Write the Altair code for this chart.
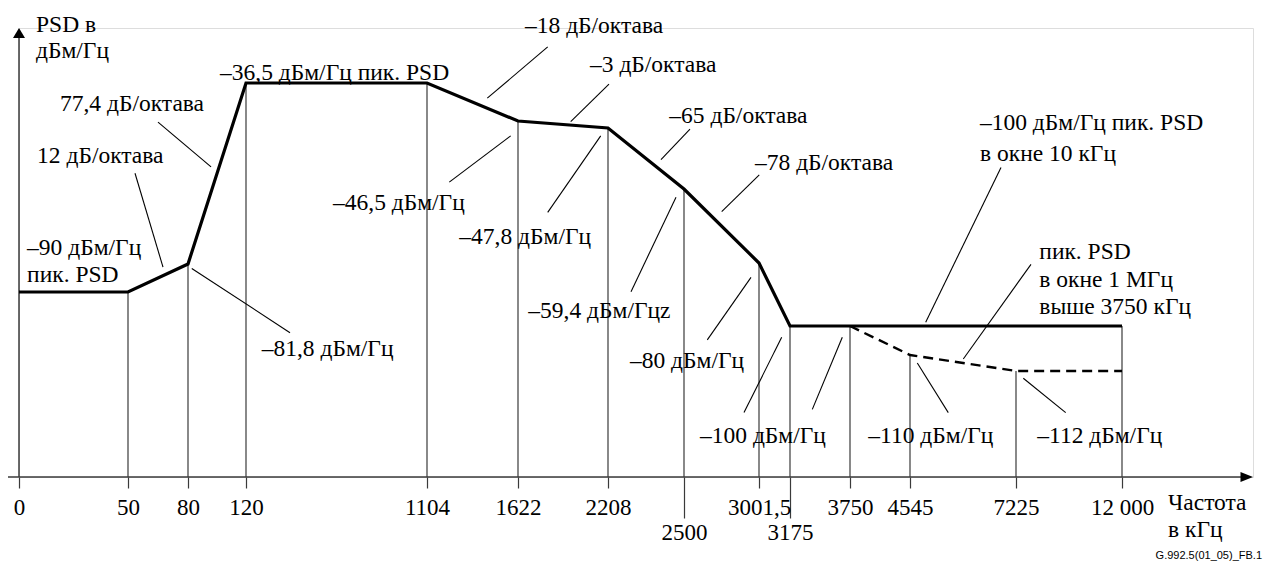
import altair as alt
import pandas as pd

# ---------------- data ----------------
# x-axis tick frequencies (kHz) of the schematic mask
tick_freqs = [0, 50, 80, 120, 1104, 1622, 2208, 2500, 3001.5, 3175, 3750, 4545, 7225, 12000]
# PSD levels (dBm/Hz) that appear in the drawing
psd_levels = [-36.5, -46.5, -47.8, -59.4, -80, -81.8, -90, -100, -110, -112]

# solid mask (peak PSD in 10 kHz window)
mask_freq = [0, 50, 80, 120, 1104, 1622, 2208, 2500, 3001.5, 3175, 12000]
mask_psd = [-90, -90, -81.8, -36.5, -36.5, -46.5, -47.8, -59.4, -80, -100, -100]

# dashed mask (peak PSD in 1 MHz window above 3750 kHz)
win_freq = [3750, 4545, 7225, 12000]
win_psd = [-100, -110, -112, -112]

# vertical guide lines from the mask down to the frequency axis
vert_freq = [50, 80, 120, 1104, 1622, 2208, 2500, 3001.5, 3175, 3750, 4545, 7225, 12000]
vert_psd = [-90, -81.8, -36.5, -36.5, -46.5, -47.8, -59.4, -80, -100, -100, -110, -112, -100]

# annotation texts and their anchor (kHz, dBm/Hz)
ann_text = [
    "PSD в", "дБм/Гц",
    "–36,5 дБм/Гц пик. PSD", "77,4 дБ/октава", "12 дБ/октава",
    "–90 дБм/Гц", "пик. PSD", "–81,8 дБм/Гц", "–46,5 дБм/Гц",
    "–18 дБ/октава", "–3 дБ/октава", "–65 дБ/октава", "–78 дБ/октава",
    "–47,8 дБм/Гц", "–59,4 дБм/Гцz", "–80 дБм/Гц", "–100 дБм/Гц",
    "–110 дБм/Гц", "–112 дБм/Гц", "–100 дБм/Гц пик. PSD", "в окне 10 кГц",
    "пик. PSD", "в окне 1 МГц", "выше 3750 кГц", "Частота", "в кГц",
]
ann_freq = [
    7.8, 7.8,
    102.1, 18.8, 8.3,
    3.7, 3.7, 205.4, 593.0,
    1667.6, 2090.8, 2443.5, 2974.8,
    1287.9, 1689.1, 2292.5, 2607.0,
    3992.5, 8184.5, 6314.8, 6314.8,
    8274.6, 8274.6, 8274.6, 14072, 14072,
]
ann_psd = [
    -21.3, -28.0,
    -33.9, -42.0, -53.1,
    -75.8, -85.0, -107.9, -63.3,
    -21.5, -31.8, -45.1, -54.5,
    -72.9, -95.5, -110.8, -120.1,
    -120.1, -120.1, -46.9, -52.7,
    -77.0, -86.4, -94.5, -128.5, -131.9,
]

# leader lines (start kHz, start dBm/Hz, end kHz, end dBm/Hz)
lead_f1 = [65.0, 53.5, 82.6, 1815.4, 2211.8, 2540.1, 3003, 1580.4, 2160.5, 2469.3, 2948.0, 3128.5, 3676.2, 6845.8, 7900.7, 4729.6, 7553.8]
lead_p1 = [-46.7, -56.4, -83.1, -27.0, -36.8, -48.0, -56.7, -49.3, -49.3, -61.7, -85.7, -103.9, -103.9, -55.3, -81.9, -111.0, -112.9]
lead_f2 = [95.9, 67.5, 359.2, 1447.2, 1965.1, 2411.6, 2752.1, 1230.9, 1815.4, 2296.4, 2655.8, 2901.2, 3388.7, 4941.9, 5892.6, 5513.3, 9463.8]
lead_p2 = [-55.2, -82.7, -102.3, -40.5, -46.6, -53.8, -65.7, -58.1, -65.9, -89.9, -104.8, -117.2, -116.8, -98.9, -110.5, -117.2, -117.2]

figure_id = "G.992.5(01_05)_FB.1"

# ---------------- layout / scales ----------------
W, H = 1234, 449
FONT = "Liberation Serif"
FS = 23.5
AXFS = 23

# schematic (piece-wise) axes, as in the original drawing
xscale = alt.Scale(domain=tick_freqs,
                   range=[0, 109, 169, 227, 408, 499, 589, 665, 740, 771, 831, 891, 997, 1103],
                   zero=False, nice=False)
yscale = alt.Scale(domain=psd_levels,
                   range=[55, 93, 100, 161, 235, 236, 264, 298, 327, 343],
                   zero=False, nice=False)

stagger = "datum.value == 2500 || datum.value == 3175"
xaxis = alt.Axis(
    values=tick_freqs, domain=False, grid=False, title=None,
    labelExpr="datum.value == 12000 ? '12 000' : replace(toString(datum.value), '.', ',')",
    labelFont=FONT, labelFontSize=AXFS, labelColor="black",
    labelOverlap=False, labelFlush=False, labelBound=False,
    tickColor="#3a3a3a", tickWidth=1.2,
    tickSize={"condition": {"test": stagger, "value": 41}, "value": 11},
    labelPadding={"condition": {"test": stagger, "value": 3}, "value": 8},
)


def X(field):
    return alt.X(field, type="quantitative", scale=xscale, axis=xaxis)


def Y(field):
    return alt.Y(field, type="quantitative", scale=yscale, axis=None)


mask_df = pd.DataFrame({"f": mask_freq, "p": mask_psd, "o": range(len(mask_freq))})
win_df = pd.DataFrame({"f": win_freq, "p": win_psd, "o": range(len(win_freq))})
vert_df = pd.DataFrame({"f": vert_freq, "p": vert_psd})
ann_df = pd.DataFrame({"f": ann_freq, "p": ann_psd, "t": ann_text})
lead_df = pd.DataFrame({"f1": lead_f1, "p1": lead_p1, "f2": lead_f2, "p2": lead_p2})
one = pd.DataFrame({"a": [0]})

verticals = alt.Chart(vert_df).mark_rule(color="#3a3a3a", strokeWidth=1.2).encode(
    x=X("f"), y=Y("p"), y2=alt.value(H)
)

leaders = alt.Chart(lead_df).mark_rule(color="black", strokeWidth=1.1).encode(
    x=X("f1"), y=Y("p1"), x2="f2", y2="p2"
)

mask = alt.Chart(mask_df).mark_line(color="black", strokeWidth=3.2, strokeJoin="miter").encode(
    x=X("f"), y=Y("p"), order="o"
)

window = alt.Chart(win_df).mark_line(color="black", strokeWidth=2.4, strokeDash=[10, 6]).encode(
    x=X("f"), y=Y("p"), order="o"
)

labels = alt.Chart(ann_df).mark_text(
    align="left", baseline="middle", font=FONT, fontSize=FS, color="black"
).encode(x=X("f"), y=Y("p"), text="t")

# axis lines with arrow heads
x_line = alt.Chart(one).mark_rule(color="#3a3a3a", strokeWidth=1.5).encode(
    x=alt.value(-11), x2=alt.value(W - 6), y=alt.value(H)
)
y_line = alt.Chart(one).mark_rule(color="#3a3a3a", strokeWidth=1.5).encode(
    x=alt.value(0), y=alt.value(6), y2=alt.value(H)
)
x_arrow = alt.Chart(one).mark_point(
    shape="M-1,-0.8L1,0L-1,0.8Z", filled=True, color="black", opacity=1, size=156
).encode(x=alt.value(W - 6.25), y=alt.value(H))
y_arrow = alt.Chart(one).mark_point(
    shape="M0,-1L1.2,1L-1.2,1Z", filled=True, color="black", opacity=1, size=100
).encode(x=alt.value(0), y=alt.value(5))

fig_id = alt.Chart(pd.DataFrame({"t": [figure_id]})).mark_text(
    align="right", baseline="middle", font="Liberation Sans, sans-serif",
    fontSize=11, color="black"
).encode(text="t", x=alt.value(W + 9), y=alt.value(H + 79))

chart = alt.layer(
    verticals, leaders, x_line, y_line, x_arrow, y_arrow, window, mask, labels, fig_id
).properties(
    width=W, height=H,
    padding={"left": 11, "top": 20, "right": 10, "bottom": 87},
    autosize="none",
).configure_view(stroke=None).configure(background="white")

chart.save("out.html", embed_options={"renderer": "svg", "actions": False})
